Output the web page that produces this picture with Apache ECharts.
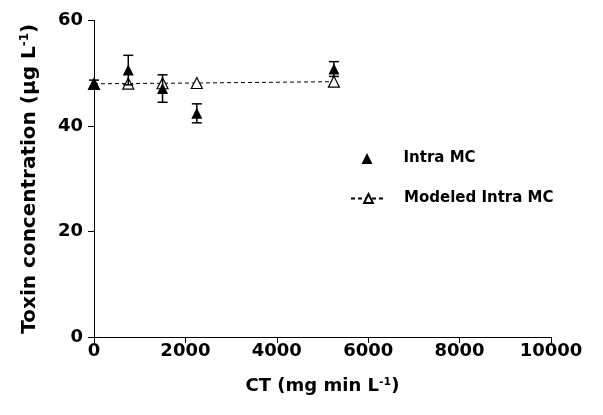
<!DOCTYPE html>
<html><head><meta charset="utf-8">
<script src="https://cdn.jsdelivr.net/npm/echarts@6/dist/echarts.min.js"></script>
<style>html,body{margin:0;padding:0;background:#fff}#c{width:603px;height:415px}</style>
</head><body><div id="c"></div>
<script>
var ctValues = [0, 750, 1500, 2250, 5250];
var intraMC = [48.0, 50.6, 47.1, 42.4, 50.8];
var intraErr = [0.7, 2.8, 2.6, 1.8, 1.4];
var modeledMC = [48.0, 48.05, 48.1, 48.15, 48.4];
var xTicks = [0, 2000, 4000, 6000, 8000, 10000];
var yTicks = [0, 20, 40, 60];

var font = 'DejaVu Sans, sans-serif';
var chart = echarts.init(document.getElementById('c'));
var errData = ctValues.map(function(x, i){ return [x, intraMC[i] - intraErr[i], intraMC[i] + intraErr[i]]; });
function richName(size){
  return {rich: {
    a: {color: '#000', fontFamily: font, fontWeight: 'bold', fontSize: size},
    s: {color: '#000', fontFamily: font, fontWeight: 'bold', fontSize: Math.round(size*0.62), verticalAlign: 'top', padding: [0,0,Math.round(size*0.45),0]}
  }};
}
chart.setOption({
  animation: false,
  grid: {left: 94, right: 52, top: 20.5, bottom: 78},
  xAxis: {
    type: 'value', min: xTicks[0], max: xTicks[xTicks.length-1], interval: xTicks[1]-xTicks[0],
    axisLine: {show: true, lineStyle: {color: '#000', width: 1}},
    axisTick: {show: true, length: 6, lineStyle: {color: '#000'}},
    splitLine: {show: false},
    axisLabel: {color: '#000', fontFamily: font, fontWeight: 'bold', fontSize: 18, margin: 5,
      formatter: function(v){ return String(v); }},
    name: '{a|CT (mg min L}{s|-1}{a|)}', nameLocation: 'middle', nameGap: 40,
    nameTextStyle: richName(18)
  },
  yAxis: {
    type: 'value', min: yTicks[0], max: yTicks[yTicks.length-1], interval: yTicks[1]-yTicks[0],
    axisLine: {show: true, lineStyle: {color: '#000', width: 1}},
    axisTick: {show: true, length: 6, lineStyle: {color: '#000'}},
    splitLine: {show: false},
    axisLabel: {color: '#000', fontFamily: font, fontWeight: 'bold', fontSize: 18, margin: 11},
    name: '{a|Toxin concentration (μg L}{s|-1}{a|)}', nameLocation: 'middle', nameGap: 54, nameRotate: 90,
    nameTextStyle: richName(20)
  },
  legend: [
    {
      orient: 'vertical', left: 361.5, top: 151, padding: 0, itemWidth: 11, itemHeight: 11,
      textStyle: {color: '#000', fontFamily: font, fontWeight: 'bold', fontSize: 15, padding: [0,0,0,26]},
      data: [{name: 'Intra MC', icon: 'triangle'}]
    },
    {
      orient: 'vertical', left: 350, top: 191, padding: 0, itemWidth: 35, itemHeight: 11,
      textStyle: {color: '#000', fontFamily: font, fontWeight: 'bold', fontSize: 15, padding: [0,0,0,13]},
      data: ['Modeled Intra MC']
    }
  ],
  series: [
    {
      name: 'Modeled Intra MC', type: 'line', z: 2,
      data: ctValues.map(function(x, i){ return [x, modeledMC[i]]; }),
      symbol: 'triangle', symbolSize: 11,
      lineStyle: {color: '#000', width: 1, type: [4, 3]},
      itemStyle: {color: '#fff', borderColor: '#000', borderWidth: 1.2, opacity: 1}
    },
    {
      name: 'errbars', type: 'custom', z: 3,
      data: errData,
      renderItem: function(params, api){
        var x = api.value(0);
        var lo = api.coord([x, api.value(1)]);
        var hi = api.coord([x, api.value(2)]);
        var hw = 5;
        var st = {stroke: '#000', lineWidth: 1.5};
        return {type: 'group', children: [
          {type: 'line', shape: {x1: lo[0], y1: lo[1], x2: hi[0], y2: hi[1]}, style: st},
          {type: 'line', shape: {x1: lo[0]-hw, y1: lo[1], x2: lo[0]+hw, y2: lo[1]}, style: st},
          {type: 'line', shape: {x1: hi[0]-hw, y1: hi[1], x2: hi[0]+hw, y2: hi[1]}, style: st}
        ]};
      }
    },
    {
      name: 'Intra MC', type: 'scatter', z: 4,
      data: ctValues.map(function(x, i){ return [x, intraMC[i]]; }),
      symbol: 'triangle', symbolSize: 11,
      itemStyle: {color: '#000', opacity: 1}
    }
  ]
});
</script></body></html>
